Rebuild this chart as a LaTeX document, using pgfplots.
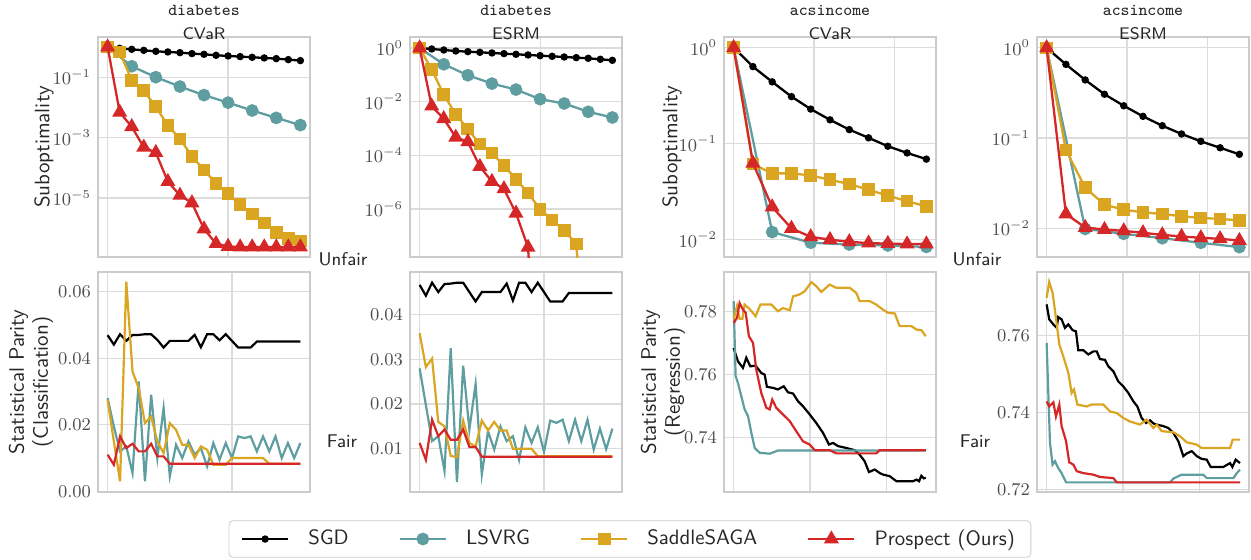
\documentclass[border=0pt]{standalone}
\usepackage{pgfplots}
\pgfplotsset{compat=1.18}
\definecolor{lsvrg}{RGB}{95,158,160}
\definecolor{saga}{RGB}{218,165,32}
\definecolor{prosp}{RGB}{214,39,40}
\definecolor{gridc}{RGB}{220,220,220}
\definecolor{boxc}{RGB}{204,204,204}
\definecolor{tickc}{RGB}{77,77,77}
\definecolor{labc}{RGB}{38,38,38}
\newcommand{\ttl}[2]{{\fontsize{8.4}{9}\selectfont\ttfamily #1}\\{\fontsize{8.4}{9}\selectfont\sffamily #2}}
\pgfplotsset{
  base/.style={scale only axis, width=106pt, height=110pt, anchor=south west,
    axis line style={draw=boxc, line width=0.6pt},
    grid=major, major grid style={draw=gridc, line width=0.6pt},
    major tick length=0pt, minor tick length=0pt, xticklabels={},
    tick label style={font=\fontsize{8.8}{10}\selectfont, text=tickc},
    ylabel style={font=\sffamily\fontsize{10.5}{12}\selectfont, text=labc, align=center, anchor=center},
    title style={text=labc, align=center, yshift=-11pt},
    clip marker paths=true},
  toprow/.style={base},
  botrow/.style={base, scaled y ticks=false, y tick label style={/pgf/number format/fixed, /pgf/number format/fixed zerofill, /pgf/number format/precision=2}},
  sgd/.style={black, line width=1.15pt, mark=*, mark size=1.25pt},
  lsv/.style={lsvrg, line width=1.15pt, mark=*, mark size=2.6pt},
  sag/.style={saga, line width=1.15pt, mark=square*, mark size=2.6pt},
  pro/.style={prosp, line width=1.15pt, mark=triangle*, mark size=3.2pt},
  sgdl/.style={black, line width=1.1pt},
  lsvl/.style={lsvrg, line width=1.1pt},
  sagl/.style={saga, line width=1.1pt},
  prol/.style={prosp, line width=1.1pt},
}
\begin{document}
\begin{tikzpicture}
\path[use as bounding box] (0pt,0pt) rectangle (625.5pt,-280pt);

% ---------- Panel 1: diabetes CVaR ----------
\begin{semilogyaxis}[toprow, at={(49pt,-128.5pt)},
  xmin=-0.8, xmax=16.8, xtick={0,10,20},
  ymin=1.12e-7, ymax=2.14, ytick={1e-5,1e-3,1e-1},
  title={\ttl{diabetes}{CVaR}},
  ylabel={Suboptimality}, ylabel style={at={(axis description cs:-0.255,0.5)}},
  legend style={at={(axis description cs:2.509,-1.282)}, anchor=center, legend columns=4,
    draw=boxc, rounded corners=2pt, font=\sffamily\fontsize{10.4}{12}\selectfont, text=labc,
    inner xsep=6pt, inner ysep=2.5pt,
    /tikz/every even column/.append style={column sep=23pt},
    /tikz/every odd column/.append style={column sep=7.5pt}},
  legend image code/.code={\draw[mark repeat=2,mark phase=2,#1] plot coordinates {(0pt,0pt) (11.5pt,0pt) (23pt,0pt)};},
]
\addplot[sgd] coordinates {(0,1) (1,0.904) (2,0.838) (3,0.776) (4,0.719) (5,0.684) (6,0.650) (7,0.603) (8,0.573) (9,0.531) (10,0.505) (11,0.480) (12,0.456) (13,0.434) (14,0.412) (15,0.382) (16,0.354)};
\addplot[lsv] coordinates {(0,1) (2,0.23) (4,0.1) (6,0.049) (8,0.0255) (10,0.0144) (12,0.0079) (14,0.0045) (16,0.0026)};
\addplot[sag] coordinates {(0,1) (1,0.684) (2,0.0794) (3,0.0355) (4,0.0105) (5,0.00251) (6,9.1e-4) (7,2.4e-4) (8,8.5e-5) (9,3.1e-5) (10,1.38e-5) (11,6.0e-6) (12,3.0e-6) (13,1.5e-6) (14,7.4e-7) (15,4.5e-7) (16,3.8e-7)};
\addplot[pro] coordinates {(0,1) (1,6.9e-3) (2,2.3e-3) (3,4.8e-4) (4,3.2e-4) (5,3.5e-5) (6,1.23e-5) (7,6.9e-6) (8,9.5e-7) (9,3.1e-7) (10,2.5e-7) (11,2.4e-7) (12,2.4e-7) (13,2.4e-7) (14,2.4e-7) (15,2.4e-7) (16,2.4e-7)};
\legend{SGD, LSVRG, SaddleSAGA, Prospect (Ours)}
\end{semilogyaxis}

% ---------- Panel 2: diabetes ESRM ----------
\begin{semilogyaxis}[toprow, at={(205pt,-128.5pt)},
  xmin=-0.8, xmax=16.8, xtick={0,10,20},
  ymin=1.62e-8, ymax=2.57, ytick={1e-6,1e-4,1e-2,1},
  title={\ttl{diabetes}{ESRM}},
]
\addplot[sgd] coordinates {(0,1) (1,0.918) (2,0.843) (3,0.773) (4,0.731) (5,0.690) (6,0.652) (7,0.615) (8,0.582) (9,0.550) (10,0.519) (11,0.490) (12,0.462) (13,0.437) (14,0.413) (15,0.380) (16,0.348)};
\addplot[lsv] coordinates {(0,1) (2,0.247) (4,0.0964) (6,0.0472) (8,0.0282) (10,0.0124) (12,0.00853) (14,0.00418) (16,0.00257)};
\addplot[sag] coordinates {(0,1) (1,0.157) (2,0.0184) (3,3.33e-3) (4,9.46e-4) (5,2.63e-4) (6,1.22e-4) (7,4.11e-5) (8,1.28e-5) (9,3.96e-6) (10,9.8e-7) (11,3.9e-7) (12,1.58e-7) (13,5.0e-8) (14,1e-13)};
\addplot[pro] coordinates {(0,1) (1,6.8e-3) (2,2.3e-3) (3,4.7e-4) (4,3.2e-4) (5,3.8e-5) (6,1.05e-5) (7,5.6e-6) (8,6.9e-7) (9,3.7e-8) (10,1e-15)};
\end{semilogyaxis}

% ---------- Panel 3: acsincome CVaR ----------
\begin{semilogyaxis}[toprow, at={(362pt,-128.5pt)},
  xmin=-0.6, xmax=12.6, xtick={0,5,10},
  ymin=0.0066, ymax=1.29, ytick={0.01,0.1,1},
  title={\ttl{acsincome}{CVaR}},
  ylabel={Suboptimality}, ylabel style={at={(axis description cs:-0.245,0.5)}},
]
\addplot[sgd] coordinates {(0,1) (1.2,0.634) (2.4,0.44) (3.6,0.309) (4.8,0.229) (6,0.177) (7.2,0.140) (8.4,0.115) (9.6,0.094) (10.8,0.080) (12,0.069)};
\addplot[lsv] coordinates {(0,1) (2.4,0.0120) (4.8,0.0093) (7.2,0.0089) (9.6,0.0087) (12,0.0084)};
\addplot[sag] coordinates {(0,1) (1.2,0.0612) (2.4,0.049) (3.6,0.049) (4.8,0.0467) (6,0.042) (7.2,0.038) (8.4,0.0331) (9.6,0.0287) (10.8,0.0252) (12,0.0222)};
\addplot[pro] coordinates {(0,1) (1.2,0.0626) (2.4,0.0219) (3.6,0.0131) (4.8,0.0107) (6,0.0100) (7.2,0.0095) (8.4,0.0092) (9.6,0.0091) (10.8,0.0090) (12,0.0090)};
\end{semilogyaxis}

% ---------- Panel 4: acsincome ESRM ----------
\begin{semilogyaxis}[toprow, at={(518.5pt,-128.5pt)},
  xmin=-0.6, xmax=12.6, xtick={0,5,10},
  ymin=0.0048, ymax=1.32, ytick={0.01,0.1,1},
  title={\ttl{acsincome}{ESRM}},
]
\addplot[sgd] coordinates {(0,1) (1.2,0.656) (2.4,0.441) (3.6,0.306) (4.8,0.228) (6,0.174) (7.2,0.137) (8.4,0.111) (9.6,0.092) (10.8,0.078) (12,0.066)};
\addplot[lsv] coordinates {(0,1) (2.4,0.00984) (4.8,0.00867) (7.2,0.00776) (9.6,0.0069) (12,0.00618)};
\addplot[sag] coordinates {(0,1) (1.2,0.0735) (2.4,0.0282) (3.6,0.0182) (4.8,0.0161) (6,0.0150) (7.2,0.0144) (8.4,0.0136) (9.6,0.0130) (10.8,0.0127) (12,0.0122)};
\addplot[pro] coordinates {(0,1) (1.2,0.0144) (2.4,0.0102) (3.6,0.00966) (4.8,0.00935) (6,0.0089) (7.2,0.00845) (8.4,0.0081) (9.6,0.00783) (10.8,0.00764) (12,0.0073)};
\end{semilogyaxis}

% ---------- Panel 5: diabetes CVaR fairness ----------
\begin{axis}[botrow, at={(49pt,-246pt)},
  xmin=-0.775, xmax=16.275, xtick={0,10},
  ymin=-0.0002, ymax=0.0659, ytick={0,0.02,0.04,0.06},
  ylabel={Statistical Parity\\(Classification)}, ylabel style={at={(axis description cs:-0.316,0.5)}},
]
\addplot[sgdl] coordinates {(0,.0469) (0.5,.0441) (1,.0472) (1.5,.0452) (2,.0470) (2.5,.0470) (3,.0472) (3.5,.0472) (4,.0455) (4.5,.0432) (5,.0452) (5.5,.0452) (6,.0452) (6.5,.0452) (7,.0470) (7.5,.0433) (8,.0472) (8.5,.0472) (9,.0454) (9.5,.0472) (10,.0452) (10.5,.0432) (11,.0432) (11.5,.0432) (12,.0450) (12.5,.0450) (13,.0450) (13.5,.0450) (14,.0450) (14.5,.0450) (15,.0450) (15.5,.0450)};
\addplot[lsvl] coordinates {(0,.028) (0.5,.0195) (1,.012) (1.5,.0135) (2,.0055) (2.5,.033) (3,.003) (3.5,.029) (4,.010) (4.5,.025) (5,.0045) (5.5,.014) (6,.010) (6.5,.015) (7,.011) (7.5,.013) (8,.0075) (8.5,.0145) (9,.0095) (9.5,.0145) (10,.010) (10.5,.0165) (11,.016) (11.5,.0165) (12,.012) (12.5,.0165) (13,.012) (13.5,.0165) (14,.010) (14.5,.0145) (15,.010) (15.5,.0145)};
\addplot[sagl] coordinates {(0,.0275) (0.5,.015) (1,.003) (1.5,.063) (2,.036) (2.5,.031) (3,.0205) (3.5,.0225) (4,.015) (4.5,.0115) (5,.0205) (5.5,.0185) (6,.014) (6.5,.014) (7,.010) (7.5,.0135) (8,.0125) (8.5,.008) (9,.008) (9.5,.008) (10,.010) (10.5,.010) (11,.010) (11.5,.010) (12,.010) (12.5,.010) (13,.0083) (13.5,.0083) (14,.0083) (14.5,.0083) (15,.0083) (15.5,.0083)};
\addplot[prol] coordinates {(0,.011) (0.5,.008) (1,.0165) (1.5,.013) (2,.0143) (2.5,.012) (3,.012) (3.5,.0143) (4,.0105) (4.5,.0105) (5,.0083) (15.5,.0083)};
\end{axis}

% ---------- Panel 6: diabetes ESRM fairness ----------
\begin{axis}[botrow, at={(205pt,-246pt)},
  xmin=-0.775, xmax=16.275, xtick={0,10},
  ymin=0.0003, ymax=0.0496, ytick={0.01,0.02,0.03,0.04},
]
\addplot[sgdl] coordinates {(0,.0467) (0.5,.0443) (1,.0472) (1.5,.0451) (2,.0469) (2.5,.0470) (3,.0472) (3.5,.0472) (4,.0451) (4.5,.0430) (5,.0451) (5.5,.0451) (6,.0451) (6.5,.0451) (7,.0470) (7.5,.0432) (8,.0472) (8.5,.0472) (9,.0451) (9.5,.0472) (10,.0451) (10.5,.0430) (11,.0430) (11.5,.0430) (12,.0449) (12.5,.0449) (13,.0449) (13.5,.0449) (14,.0449) (14.5,.0449) (15,.0449) (15.5,.0449)};
\addplot[lsvl] coordinates {(0,.028) (0.5,.0198) (1,.0117) (1.5,.0128) (2,.005) (2.5,.0325) (3,.0025) (3.5,.0286) (4,.0143) (4.5,.0245) (5,.0042) (5.5,.0139) (6,.0098) (6.5,.015) (7,.0117) (7.5,.0128) (8,.0075) (8.5,.0148) (9,.0113) (9.5,.0148) (10,.0093) (10.5,.0163) (11,.0158) (11.5,.0165) (12,.0117) (12.5,.0165) (13,.0117) (13.5,.0165) (14,.0098) (14.5,.0145) (15,.0099) (15.5,.0145)};
\addplot[sagl] coordinates {(0,.0359) (0.5,.0283) (1,.0302) (1.5,.016) (2,.015) (2.5,.0084) (3,.0081) (3.5,.0163) (4,.0113) (4.5,.0105) (5,.0163) (5.5,.0141) (6,.016) (6.5,.0141) (7,.0141) (7.5,.01) (8,.01) (8.5,.01) (9,.01) (9.5,.0083) (15.5,.0083)};
\addplot[prol] coordinates {(0,.0113) (0.5,.0075) (1,.0165) (1.5,.0128) (2,.0143) (2.5,.012) (3,.012) (3.5,.0143) (4,.0104) (4.5,.0104) (5,.0082) (15.5,.0082)};
\end{axis}

% ---------- Panel 7: acsincome CVaR fairness ----------
\begin{axis}[botrow, at={(362pt,-246pt)},
  xmin=-0.63, xmax=13.25, xtick={0,5,10},
  ymin=0.7229, ymax=0.7924, ytick={0.74,0.76,0.78},
  ylabel={Statistical Parity\\(Regression)}, ylabel style={at={(axis description cs:-0.288,0.5)}},
]
\addplot[sgdl] coordinates {(0,.7684) (0.28,.7642) (0.61,.7621) (0.83,.7653) (1.09,.7626) (1.44,.7628) (1.81,.7605) (2.03,.7600) (2.18,.7561) (2.58,.7558) (2.90,.7553) (3.28,.7563) (3.56,.7544) (3.89,.7540) (4.21,.7516) (4.54,.7500) (4.98,.7474) (5.41,.7447) (5.85,.7416) (6.24,.7379) (6.51,.7384) (6.83,.7374) (7.38,.7368) (7.93,.7361) (8.25,.7347) (8.58,.7326) (8.86,.7292) (9.24,.7300) (9.56,.7289) (9.78,.7284) (10.22,.7279) (10.66,.7263) (11.75,.7263) (11.97,.7268) (12.14,.7263) (12.29,.7280) (12.45,.7272) (12.58,.7274)};
\addplot[lsvl] coordinates {(0,.7832) (0.13,.7595) (0.28,.7574) (0.50,.7532) (0.72,.7490) (0.94,.7469) (1.16,.7416) (1.38,.7368) (1.70,.7353) (2.36,.7350) (2.90,.7360) (12.58,.7360)};
\addplot[sagl] coordinates {(0,.7774) (0.22,.7816) (0.39,.7776) (0.57,.7776) (0.72,.7821) (1.05,.7807) (1.44,.7784) (1.75,.7821) (2.47,.7821) (2.90,.7800) (3.23,.7810) (3.67,.7803) (3.89,.7847) (4.32,.7853) (4.65,.7863) (5.09,.7892) (5.41,.7879) (5.74,.7861) (6.29,.7884) (6.72,.7874) (7.60,.7874) (8.03,.7858) (8.25,.7832) (8.91,.7832) (9.34,.7821) (9.78,.7805) (10.11,.7795) (10.55,.7793) (10.87,.7753) (11.64,.7753) (11.97,.7742) (12.29,.7740) (12.58,.7721)};
\addplot[prol] coordinates {(0,.7763) (0.22,.7779) (0.39,.7826) (0.61,.7805) (0.79,.7795) (1.00,.7721) (1.27,.7700) (1.48,.7616) (1.81,.7542) (2.14,.7495) (2.36,.7490) (2.53,.7521) (2.79,.7495) (3.23,.7474) (3.67,.7453) (4.10,.7421) (4.54,.7389) (4.98,.7379) (5.31,.7361) (6.29,.7361) (6.72,.7351) (9.34,.7351) (9.56,.7361) (12.58,.7361)};
\end{axis}

% ---------- Panel 8: acsincome ESRM fairness ----------
\begin{axis}[botrow, at={(518.5pt,-246pt)},
  xmin=-0.63, xmax=13.25, xtick={0,5,10},
  ymin=0.7194, ymax=0.7765, ytick={0.72,0.74,0.76},
]
\addplot[sgdl] coordinates {(0,.7681) (0.17,.7642) (0.44,.7629) (0.66,.7620) (0.76,.7648) (0.98,.7642) (1.20,.7620) (1.42,.7629) (1.70,.7614) (1.92,.7611) (2.07,.7562) (2.40,.7562) (2.73,.7551) (3.06,.7559) (3.28,.7559) (3.49,.7539) (3.82,.7537) (4.04,.7520) (4.37,.7507) (4.69,.7481) (5.02,.7468) (5.35,.7451) (5.68,.7429) (5.94,.7416) (6.22,.7386) (6.51,.7373) (6.77,.7380) (6.99,.7372) (7.21,.7369) (7.64,.7365) (7.97,.7360) (8.30,.7347) (8.62,.7326) (8.95,.7287) (9.17,.7294) (9.50,.7300) (9.83,.7287) (10.15,.7280) (10.48,.7278) (10.74,.7259) (11.57,.7259) (12.01,.7269) (12.16,.7259) (12.38,.7278) (12.66,.7269)};
\addplot[lsvl] coordinates {(0,.7581) (0.11,.7451) (0.22,.7321) (0.39,.7265) (0.55,.7274) (0.76,.7256) (0.98,.7243) (1.27,.7219) (8.08,.7219) (8.30,.7229) (8.84,.7239) (10.26,.7239) (10.48,.7230) (12.23,.7230) (12.45,.7243) (12.66,.7252)};
\addplot[sagl] coordinates {(0,.7698) (0.17,.7739) (0.39,.7711) (0.61,.7646) (0.83,.7577) (1.09,.7546) (1.42,.7503) (1.64,.7451) (1.79,.7460) (2.01,.7421) (2.62,.7416) (2.95,.7421) (3.71,.7421) (3.93,.7412) (4.15,.7403) (4.59,.7399) (5.02,.7386) (5.46,.7377) (6.11,.7369) (6.55,.7382) (6.99,.7360) (7.21,.7369) (7.53,.7352) (8.30,.7349) (8.73,.7339) (9.17,.7323) (9.83,.7317) (10.15,.7308) (12.01,.7308) (12.18,.7330) (12.66,.7330)};
\addplot[prol] coordinates {(0,.7429) (0.17,.7416) (0.44,.7427) (0.61,.7390) (0.83,.7421) (0.98,.7365) (1.27,.7326) (1.48,.7271) (1.75,.7265) (1.97,.7248) (2.40,.7243) (3.06,.7239) (3.49,.7233) (4.37,.7230) (4.59,.7219) (12.66,.7219)};
\end{axis}

% ---------- Fair / Unfair annotations ----------
\node[font=\sffamily\fontsize{9.2}{11}\selectfont, text=labc] at (171.5pt,-129.5pt) {Unfair};
\node[font=\sffamily\fontsize{9.2}{11}\selectfont, text=labc] at (171pt,-220.5pt) {Fair};
\node[font=\sffamily\fontsize{9.2}{11}\selectfont, text=labc] at (488.5pt,-129.5pt) {Unfair};
\node[font=\sffamily\fontsize{9.2}{11}\selectfont, text=labc] at (487.5pt,-220.5pt) {Fair};
\end{tikzpicture}
\end{document}
